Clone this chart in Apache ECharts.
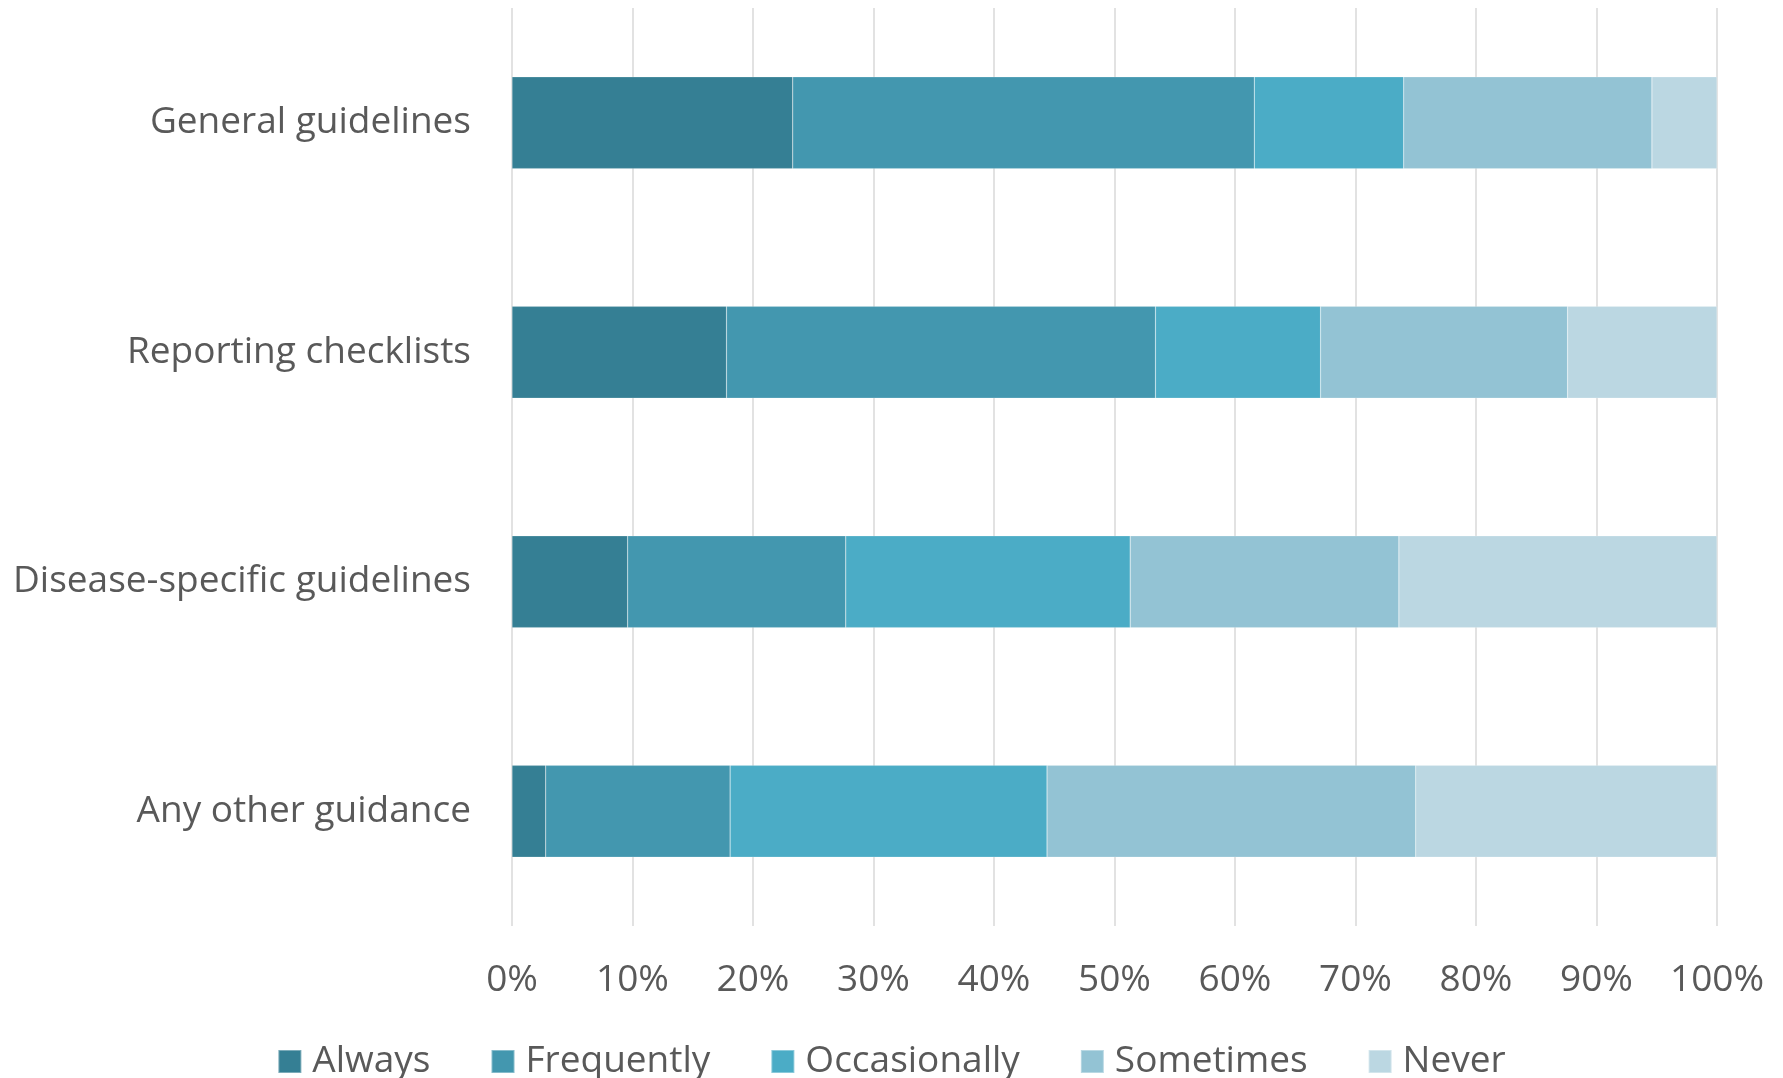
<!DOCTYPE html>
<html>
<head>
<meta charset="utf-8">
<script src="https://cdn.jsdelivr.net/npm/echarts@6/dist/echarts.min.js"></script>
<style>
  html, body { margin: 0; padding: 0; background: #ffffff; }
  #chart { width: 1783px; height: 1078px; }
</style>
</head>
<body>
<div id="chart"></div>
<script>
// Guidance types, top to bottom
const categories = [
  'General guidelines',
  'Reporting checklists',
  'Disease-specific guidelines',
  'Any other guidance'
];

// Share of respondents (%) per frequency of use
const always       = [23.3, 17.8,  9.6,  2.8];
const frequently   = [38.3, 35.6, 18.1, 15.3];
const occasionally = [12.4, 13.7, 23.6, 26.3];
const sometimes    = [20.6, 20.5, 22.3, 30.6];
const never        = [ 5.4, 12.4, 26.4, 25.0];

const seriesNames  = ['Always', 'Frequently', 'Occasionally', 'Sometimes', 'Never'];
const seriesValues = [always, frequently, occasionally, sometimes, never];
const colors       = ['#357F94', '#4397AF', '#4BACC6', '#93C3D4', '#BBD7E2'];

const FONT = '"Open Sans", "Liberation Sans", sans-serif';
const TEXT = '#595959';
const SIZE = 37;

const chart = echarts.init(document.getElementById('chart'), null, { renderer: 'canvas' });

chart.setOption({
  animation: false,
  color: colors,
  textStyle: { fontFamily: FONT, color: TEXT },
  grid: {
    left: 512, right: 66, top: 8, bottom: 152,
    containLabel: false,
    outerBoundsMode: 'none'
  },
  legend: {
    data: seriesNames,
    left: 'center',
    top: 1038,
    icon: 'rect',
    itemWidth: 23,
    itemHeight: 23,
    itemGap: 60,
    textStyle: { fontFamily: FONT, fontSize: SIZE, color: TEXT, padding: [0, 0, 0, 6] }
  },
  xAxis: {
    type: 'value',
    min: 0,
    max: 100,
    interval: 10,
    axisLine: { show: false },
    axisTick: { show: false },
    splitLine: { show: true, lineStyle: { color: '#D9D9D9', width: 1.5 } },
    axisLabel: {
      formatter: '{value}%',
      fontFamily: FONT,
      fontSize: SIZE,
      color: TEXT,
      margin: 36
    }
  },
  yAxis: {
    type: 'category',
    data: categories,
    inverse: true,
    axisLine: { show: false },
    axisTick: { show: false },
    splitLine: { show: false },
    axisLabel: {
      fontFamily: FONT,
      fontSize: SIZE,
      color: TEXT,
      margin: 41
    }
  },
  series: seriesNames.map((name, i) => ({
    name: name,
    type: 'bar',
    stack: 'total',
    data: seriesValues[i],
    barCategoryGap: '60%',
    itemStyle: { color: colors[i], borderColor: 'rgba(255,255,255,0.35)', borderWidth: 0.5 }
  }))
});
</script>
</body>
</html>
